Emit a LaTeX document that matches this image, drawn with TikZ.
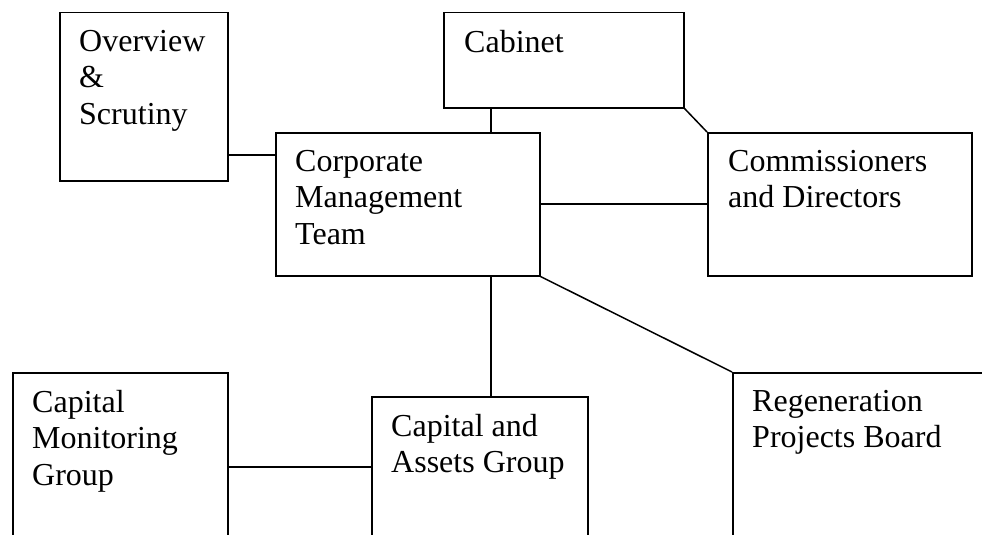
\documentclass[tikz,border=0pt]{standalone}
\usepackage{fontspec}
\setmainfont{Liberation Serif}
\tikzset{
    boxnode/.style={
        draw,line width=1.5pt,inner sep=0pt,anchor=north west
    },
    textnode/.style={
        anchor=north west,inner sep=0pt,align=left,font=\fontsize{32}{36.5}\selectfont
    },
    linknode/.style={
        line width=1.5pt
    }
}

\begin{document}
\begin{tikzpicture}[x=1pt, y=-1pt]
\useasboundingbox (0,0) rectangle (982,535);
\clip (0,0) rectangle (982,535);
\coordinate (spine) at (491,0);
\coordinate (row1) at (0,155);
\coordinate (row2) at (0,204);
\coordinate (row3) at (0,467);

\node[boxnode,minimum width=168pt,minimum height=168pt] (ovs) at (59,12) {};
\node[boxnode,minimum width=240pt,minimum height=95pt] (cab) at (443,12) {};
\node[boxnode,minimum width=264pt,minimum height=143pt] (cmt) at (275,132) {};
\node[boxnode,minimum width=264pt,minimum height=143pt] (cad) at (707,132) {};
\node[boxnode,minimum width=215pt,minimum height=188pt] (cmg) at (12,372) {};
\node[boxnode,minimum width=216pt,minimum height=164pt] (cag) at (371,396) {};
\node[boxnode,minimum width=300pt,minimum height=188pt] (rpb) at (732,372) {};

\node[textnode] (ovs-t) at ([shift={(20,18)}]ovs.north west) {Overview\\\&\\Scrutiny};
\node[textnode] (cab-t) at ([shift={(21,18)}]cab.north west) {Cabinet};
\node[textnode] (cmt-t) at ([shift={(20,18)}]cmt.north west) {Corporate\\Management\\Team};
\node[textnode] (cad-t) at ([shift={(21,18)}]cad.north west) {Commissioners\\and Directors};
\node[textnode] (cmg-t) at ([shift={(20,18)}]cmg.north west) {Capital\\Monitoring\\Group};
\node[textnode] (cag-t) at ([shift={(20,18)}]cag.north west) {Capital and\\Assets Group};
\node[textnode] (rpb-t) at ([shift={(20,18)}]rpb.north west) {Regeneration\\Projects Board};

\draw[linknode] (cab.south -| spine) -- (cmt.north -| spine);
\draw[linknode] (cab.south east) -- (cad.north west);
\draw[linknode] (ovs.east |- row1) -- (cmt.west |- row1);
\draw[linknode] (cmt.east |- row2) -- (cad.west |- row2);
\draw[linknode] (cmt.south -| spine) -- (cag.north -| spine);
\draw[linknode] (cmt.south east) -- (rpb.north west);
\draw[linknode] (cmg.east |- row3) -- (cag.west |- row3);
\end{tikzpicture}
\end{document}
